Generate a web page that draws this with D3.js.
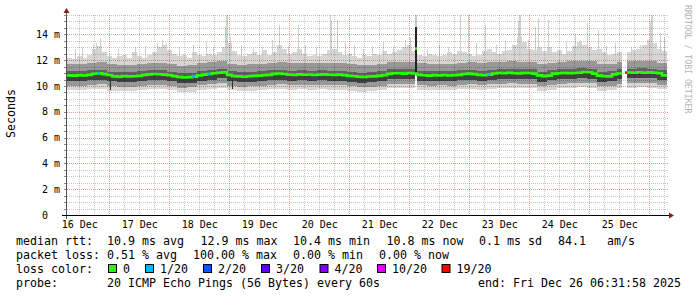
<!DOCTYPE html>
<html>
<head>
<meta charset="utf-8">
<script src="https://cdn.jsdelivr.net/npm/d3@7"></script>
<style>
  html, body { margin: 0; padding: 0; background: #fff; }
  svg { display: block; }
  text { font-family: "DejaVu Sans Mono", monospace; fill: #000; }
</style>
</head>
<body>
<svg id="chart" width="697" height="297"></svg>
<script>
// ---- data ----
// rrd series: one value per 2 hour bin, starting at graph start
const stepHours = 2;
const median = [
  10.82, 10.80, 10.84, 10.81, 10.86, 10.95, 10.98, 10.92, 10.85, 10.74,
  10.72, 10.76, 10.73, 10.75, 10.78, 10.86, 10.90, 10.93, 10.91, 10.88,
  10.84, 10.76, 10.70, 10.66, 10.68, 10.72, 10.82, 10.88, 10.93, 10.98,
  11.02, 11.05, 10.86, 10.76, 10.74, 10.72, 10.75, 10.78, 10.80, 10.84,
  10.86, 10.94, 10.97, 10.93, 10.88, 10.86, 10.90, 10.87, 10.89, 10.85,
  10.88, 10.90, 10.87, 10.86, 10.88, 10.84, 10.78, 10.75, 10.72, 10.70,
  10.73, 10.74, 10.78, 10.84, 10.94, 10.98, 10.99, 10.96, 11.00, 10.97,
  10.86, 10.83, 10.80, 10.84, 10.82, 10.85, 10.81, 10.84, 10.86, 10.93,
  10.96, 10.92, 10.86, 10.84, 10.88, 10.97, 11.00, 10.98, 11.02, 10.99,
  10.97, 11.01, 11.00, 10.96, 10.82, 10.76, 10.80, 10.96, 10.99, 11.00,
  10.98, 11.01, 11.03, 11.08, 11.06, 10.96, 10.80, 10.75, 10.74, 10.90,
  10.97, null, 11.04, 11.02, 11.06, 11.03, 11.05, 11.02, 10.98, 10.82
];
const pingMax = [
  12.2, 12.1, 12.3, 12.2, 12.4, 12.9, 13.1, 12.6, 12.3, 12.2,
  12.3, 12.4, 12.2, 12.6, 12.3, 12.2, 12.4, 12.6, 13.0, 13.2,
  12.8, 12.5, 12.3, 12.4, 12.2, 12.6, 12.4, 12.3, 12.5, 12.4,
  12.6, 13.0, 13.3, 12.7, 12.4, 12.3, 12.5, 12.6, 12.4, 12.8,
  12.4, 12.6, 13.2, 12.9, 12.5, 12.6, 12.9, 12.5, 12.3, 12.4,
  12.3, 12.5, 12.8, 12.9, 12.6, 12.4, 12.5, 12.3, 12.2, 12.4,
  12.3, 12.5, 12.4, 12.7, 12.5, 12.6, 12.8, 13.0, 13.2, 12.7,
  12.4, 12.3, 12.5, 12.4, 12.3, 12.4, 12.6, 12.5, 12.7, 12.6,
  12.5, 12.3, 12.4, 12.7, 12.9, 12.6, 12.5, 12.7, 12.8, 13.2,
  13.8, 13.4, 12.9, 12.8, 13.0, 12.7, 13.0, 12.6, 12.8, 12.5,
  12.7, 13.1, 13.4, 13.2, 13.0, 12.8, 12.9, 12.6, 12.4, 12.5,
  12.6, null, 12.6, 12.8, 12.9, 13.2, 13.6, 13.3, 12.9, 12.7
];
// smoke quantiles, one value per 4 hour bin
const pingMin = [
  9.66, 9.68, 9.74, 9.80, 9.64, 9.60, 9.62, 9.68, 9.76, 9.75,
  9.66, 9.54, 9.56, 9.70, 9.80, 9.88, 9.66, 9.58, 9.62, 9.68,
  9.74, 9.80, 9.72, 9.74, 9.72, 9.74, 9.72, 9.70, 9.62, 9.56,
  9.60, 9.66, 9.82, 9.84, 9.82, 9.70, 9.66, 9.68, 9.68, 9.74,
  9.78, 9.70, 9.76, 9.84, 9.85, 9.84, 9.82, 9.64, 9.72, 9.84,
  9.85, 9.90, 9.86, 9.62, 9.66, 9.82, 9.88, 9.90, 9.88, 9.74
];
const pingQ1 = [
  10.01, 10.02, 10.10, 10.15, 10.00, 9.94, 9.94, 10.02, 10.11, 10.10,
  10.00, 9.88, 9.90, 10.05, 10.15, 10.23, 10.01, 9.93, 9.97, 10.02,
  10.10, 10.15, 10.07, 10.08, 10.07, 10.09, 10.07, 10.06, 9.97, 9.91,
  9.94, 10.01, 10.16, 10.18, 10.18, 10.05, 10.02, 10.04, 10.03, 10.10,
  10.14, 10.05, 10.12, 10.19, 10.20, 10.19, 10.18, 9.99, 10.08, 10.19,
  10.20, 10.25, 10.21, 9.98, 10.02, 10.17, 10.23, 10.24, 10.23, 10.10
];
const pingCoreLo = [
  10.36, 10.37, 10.45, 10.50, 10.35, 10.29, 10.29, 10.37, 10.46, 10.45,
  10.35, 10.23, 10.25, 10.40, 10.50, 10.58, 10.36, 10.28, 10.32, 10.37,
  10.45, 10.50, 10.42, 10.43, 10.42, 10.44, 10.42, 10.41, 10.32, 10.26,
  10.29, 10.36, 10.51, 10.53, 10.53, 10.40, 10.37, 10.39, 10.38, 10.45,
  10.49, 10.40, 10.47, 10.54, 10.55, 10.54, 10.53, 10.34, 10.43, 10.54,
  10.55, 10.60, 10.56, 10.33, 10.37, 10.52, 10.58, 10.59, 10.58, 10.45
];
const pingCoreHi = [
  11.13, 11.14, 11.22, 11.27, 11.12, 11.06, 11.06, 11.14, 11.23, 11.22,
  11.12, 11.00, 11.02, 11.17, 11.27, 11.35, 11.13, 11.05, 11.09, 11.14,
  11.22, 11.27, 11.19, 11.20, 11.19, 11.21, 11.19, 11.18, 11.09, 11.03,
  11.06, 11.13, 11.28, 11.30, 11.30, 11.17, 11.14, 11.16, 11.15, 11.22,
  11.26, 11.17, 11.24, 11.31, 11.32, 11.31, 11.30, 11.11, 11.20, 11.31,
  11.32, 11.37, 11.33, 11.10, 11.14, 11.29, 11.35, 11.36, 11.35, 11.22
];
const pingQ3 = [
  11.71, 11.72, 11.80, 11.85, 11.70, 11.64, 11.64, 11.72, 11.81, 11.80,
  11.70, 11.58, 11.60, 11.75, 11.85, 11.93, 11.71, 11.63, 11.67, 11.72,
  11.80, 11.85, 11.77, 11.78, 11.77, 11.79, 11.77, 11.76, 11.67, 11.61,
  11.64, 11.71, 11.86, 11.88, 11.88, 11.75, 11.72, 11.74, 11.73, 11.80,
  11.84, 11.75, 11.82, 11.89, 11.90, 11.89, 11.88, 11.69, 11.78, 11.89,
  11.90, 11.95, 11.91, 11.68, 11.72, 11.87, 11.93, 11.94, 11.93, 11.80
];
// narrow max-ping spikes (hours after start, ms)
const spikeHours = [
  3.2, 6.0, 10.4, 11.6, 13.2, 20.4, 27.2, 31.2, 36.0, 38.0,
  39.6, 44.8, 50.4, 55.6, 58.4, 63.2, 63.6, 64.0, 65.2, 69.6,
  74.4, 78.0, 82.0, 84.8, 88.4, 92.4, 95.2, 99.6, 105.2, 105.6,
  108.0, 111.2, 114.8, 118.4, 122.0, 126.4, 130.4, 135.2, 137.2, 144.0,
  148.8, 152.4, 157.2, 160.4, 163.6, 167.2, 171.6, 175.2, 180.4, 180.8,
  181.2, 184.4, 187.2, 188.4, 192.4, 196.8, 199.6, 203.2, 205.2, 208.0,
  212.4, 215.6, 219.2, 225.6, 229.2, 233.2, 233.6, 234.0, 237.2, 238.8
];
const spikeTops = [
  12.9, 13.0, 13.2, 13.3, 13.7, 12.9, 13.0, 13.1, 13.3, 13.6,
  13.3, 13.0, 13.2, 13.4, 13.0, 14.6, 15.5, 15.5, 13.8, 13.2,
  12.9, 13.0, 13.6, 14.7, 13.1, 14.7, 13.2, 13.0, 15.5, 15.0,
  15.1, 13.3, 13.2, 12.9, 13.1, 13.4, 13.0, 13.6, 13.8, 12.9,
  13.2, 13.0, 15.5, 15.5, 13.3, 14.7, 13.2, 13.5, 15.0, 15.5,
  15.5, 13.6, 14.6, 15.3, 15.1, 12.8, 13.4, 14.0, 13.6, 14.9,
  14.3, 13.1, 13.3, 13.0, 13.2, 15.0, 15.5, 15.5, 14.1, 13.8
];
// short median drops
const dipHours = [17.2, 66.0];
const dipLows = [9.7, 9.8];
// the one burst where all pings were high (21 Dec)
const burstHour = 139.0;
const burstLo = 11.0;
const burstHi = 14.6;
const burstTop = 15.5;
const burstMedian = 12.9;
// loss per bin (pings lost of 20), only the non-zero bins
const lossBins = [6, 25, 28, 84, 111];
const lossCounts = [1, 1, 1, 1, 20];

const lossLabels = ["0", "1/20", "2/20", "3/20", "4/20", "10/20", "19/20"];
const lossColors = ["#26ff00", "#00b8ff", "#0059ff", "#5e00ff", "#7e00ff", "#dd00ff", "#ff0000"];
const yTicks = [0, 2, 4, 6, 8, 10, 12, 14];
const rttStats = ["10.9 ms avg", "12.9 ms max", "10.4 ms min", "10.8 ms now", "0.1 ms sd", "84.1", "am/s"];
const lossStats = ["0.51 % avg", "100.00 % max", "0.00 % min", "0.00 % now"];
const probeText = "20 ICMP Echo Pings (56 Bytes) every 60s";
const endText = "end: Fri Dec 26 06:31:58 2025";

// ---- layout ----
const svg = d3.select("#chart");
const plot = { left: 67, right: 667, top: 15, bottom: 215 };
const t0 = new Date(Date.UTC(2025, 11, 16, 7, 5));
const t1 = new Date(Date.UTC(2025, 11, 26, 7, 5));
const hourMs = 3600 * 1000;
const at = h => new Date(t0.getTime() + h * hourMs);

const x = d3.scaleUtc().domain([t0, t1]).range([plot.left, plot.right]);
const y = d3.scaleLinear().domain([0, 15.5]).range([plot.bottom, plot.top]);

const lossColor = d3.scaleThreshold().domain([1, 2, 3, 4, 10, 19]).range(lossColors);

// ---- smoke ----
const smoke = svg.append("g").attr("shape-rendering", "crispEdges");
function band(i, lo, hi, fill) {
  smoke.append("rect")
    .attr("x", x(at(i * stepHours)))
    .attr("width", x(at((i + 1) * stepHours)) - x(at(i * stepHours)))
    .attr("y", y(hi))
    .attr("height", Math.max(0, y(lo) - y(hi)))
    .attr("fill", fill);
}
median.forEach((m, i) => {
  if (m == null) return;
  const j = Math.floor(i / 2);
  band(i, pingMin[j], pingMax[i], "#d6d6d6");
});
spikeHours.forEach((h, k) => {
  const j = Math.floor(h / (stepHours * 2));
  smoke.append("rect")
    .attr("x", Math.round(x(at(h))))
    .attr("width", 1)
    .attr("y", y(spikeTops[k]))
    .attr("height", y(pingQ3[j]) - y(spikeTops[k]))
    .attr("fill", "#cfcfcf");
});
median.forEach((m, i) => {
  if (m == null) return;
  const j = Math.floor(i / 2);
  band(i, pingQ1[j], pingQ3[j], "#989898");
  band(i, pingCoreLo[j], pingCoreHi[j], "#626262");
  band(i, pingCoreLo[j], m, "#424242");
});
dipHours.forEach((h, k) => {
  const m = median[Math.floor(h / stepHours)];
  smoke.append("rect")
    .attr("x", Math.round(x(at(h))))
    .attr("width", 1)
    .attr("y", y(m))
    .attr("height", y(dipLows[k]) - y(m))
    .attr("fill", "#333");
});
{
  const bx = Math.round(x(at(burstHour)));
  const bj = Math.floor(burstHour / (stepHours * 2));
  smoke.append("rect").attr("x", bx).attr("width", 2)
    .attr("y", y(burstLo)).attr("height", y(pingMin[bj]) - y(burstLo)).attr("fill", "#fff");
  smoke.append("rect").attr("x", bx).attr("width", 2)
    .attr("y", y(burstTop)).attr("height", y(burstHi) - y(burstTop)).attr("fill", "#c8c8c8");
  smoke.append("rect").attr("x", bx).attr("width", 2)
    .attr("y", y(burstHi)).attr("height", y(burstLo) - y(burstHi)).attr("fill", "#222");
}

// ---- grid (translucent, drawn over the smoke like rrdtool) ----
const grid = svg.append("g").attr("shape-rendering", "crispEdges").attr("stroke-dasharray", "1,1");
const minorY = d3.range(0.5, 15.51, 0.5).filter(v => v % 2 !== 0);
const majorY = d3.range(2, 15.5, 2);
const minorT = d3.utcHour.every(6).range(t0, t1).filter(d => d.getUTCHours() !== 0);
const majorT = d3.utcDay.range(t0, t1);
const minorColor = "rgba(0,0,0,0.22)";
const majorColor = "rgba(190,0,0,0.4)";
const hLine = (v, c) => grid.append("line")
  .attr("x1", plot.left).attr("x2", plot.right + 1)
  .attr("y1", Math.round(y(v)) + 0.5).attr("y2", Math.round(y(v)) + 0.5)
  .attr("stroke", c);
const vLine = (d, c) => grid.append("line")
  .attr("x1", Math.round(x(d)) + 0.5).attr("x2", Math.round(x(d)) + 0.5)
  .attr("y1", plot.top).attr("y2", plot.bottom)
  .attr("stroke", c);
minorY.forEach(v => hLine(v, minorColor));
minorT.forEach(d => vLine(d, minorColor));
majorY.forEach(v => hLine(v, majorColor));
majorT.forEach(d => vLine(d, majorColor));

// ---- median line ----
const medPts = [];
median.forEach((m, i) => {
  if (m == null) { medPts.push(null); return; }
  medPts.push([at(i * stepHours), m], [at((i + 1) * stepHours), m]);
});
const medLine = d3.line().defined(d => d != null)
  .x(d => x(d[0])).y(d => y(d[1]));
svg.append("path")
  .attr("d", medLine(medPts))
  .attr("fill", "none")
  .attr("stroke", lossColors[0])
  .attr("stroke-width", 2.6);
lossBins.forEach((i, k) => {
  const m = median[i];
  const c = lossColor(lossCounts[k]);
  if (m != null) {
    svg.append("rect")
      .attr("x", x(at(i * stepHours))).attr("width", 3)
      .attr("y", y(m) - 1.3).attr("height", 2.6)
      .attr("fill", c);
  } else {
    const next = median[i + 1];
    svg.append("rect")
      .attr("x", x(at((i + 1) * stepHours)) - 2).attr("width", 2)
      .attr("y", y(next) - 1.3).attr("height", 2.6)
      .attr("fill", c);
  }
});
svg.append("rect")
  .attr("x", Math.round(x(at(burstHour))))
  .attr("y", y(burstMedian) - 1.3)
  .attr("width", 2).attr("height", 2.6)
  .attr("fill", lossColors[0]);

// ---- axes ----
const axisG = svg.append("g").attr("shape-rendering", "crispEdges");
minorY.concat(majorY).forEach(v => axisG.append("line")
  .attr("x1", plot.left - 3).attr("x2", plot.left)
  .attr("y1", Math.round(y(v)) + 0.5).attr("y2", Math.round(y(v)) + 0.5)
  .attr("stroke", "#888"));
axisG.append("line")
  .attr("x1", plot.left - 0.5).attr("x2", plot.left - 0.5)
  .attr("y1", 11).attr("y2", plot.bottom + 4)
  .attr("stroke", "#555");
axisG.append("line")
  .attr("x1", plot.left - 5).attr("x2", plot.right + 3)
  .attr("y1", plot.bottom + 0.5).attr("y2", plot.bottom + 0.5)
  .attr("stroke", "#000");
svg.append("path")
  .attr("d", `M${plot.left - 3.5},13 L${plot.left + 2.5},13 L${plot.left - 0.5},8 Z`)
  .attr("fill", "#8b1a1a");
svg.append("path")
  .attr("d", `M${plot.right + 2},${plot.bottom - 2.5} L${plot.right + 2},${plot.bottom + 3.5} L${plot.right + 7},${plot.bottom + 0.5} Z`)
  .attr("fill", "#8b1a1a");

const noonTicks = d3.utcDay.range(d3.utcDay.floor(t0), t1)
  .map(d => d3.utcHour.offset(d, 12))
  .filter(d => d < t1);
const xAxis = svg.append("g")
  .attr("transform", `translate(0,${plot.bottom})`)
  .call(d3.axisBottom(x).tickValues(noonTicks).tickFormat(d3.utcFormat("%d Dec")).tickSize(0).tickPadding(6));
xAxis.select(".domain").remove();
xAxis.selectAll("text").attr("font-family", "DejaVu Sans Mono").attr("font-size", 10).attr("fill", "#000");

const yAxis = svg.append("g")
  .attr("transform", `translate(${plot.left},0)`)
  .call(d3.axisLeft(y).tickValues(yTicks).tickFormat(v => v === 0 ? "0\u00a0\u00a0" : v + "\u00a0m").tickSize(0).tickPadding(7));
yAxis.select(".domain").remove();
yAxis.selectAll("text").attr("font-family", "DejaVu Sans Mono").attr("font-size", 10).attr("fill", "#000");

// ---- titles ----
svg.append("text")
  .attr("transform", "translate(15,113.5) rotate(-90)")
  .attr("text-anchor", "middle")
  .attr("font-size", 11.63)
  .text("Seconds");
svg.append("text")
  .attr("transform", "translate(685,5) rotate(90)")
  .attr("font-size", 8.2)
  .style("fill", "#b4b4b4")
  .text("RRDTOOL / TOBI OETIKER");

// ---- legend ----
const legend = svg.append("g").attr("font-size", 11.63).style("white-space", "pre");
const rowY = [245, 259, 273, 287];
const rttX = [107, 200.5, 293, 386.5, 479, 558, 607];
const lossX = [107, 193, 293, 379];
const boxX = [108.5, 145.5, 203.5, 261.5, 320, 377.5, 442];
const put = (tx, ty, s) => legend.append("text").attr("x", tx).attr("y", ty).text(s);

put(16, rowY[0], "median rtt:");
rttStats.forEach((s, k) => put(rttX[k], rowY[0], s));
put(16, rowY[1], "packet loss:");
lossStats.forEach((s, k) => put(lossX[k], rowY[1], s));
put(16, rowY[2], "loss color:");
lossLabels.forEach((s, k) => {
  legend.append("rect")
    .attr("x", boxX[k]).attr("y", rowY[2] - 8.5)
    .attr("width", 8).attr("height", 8)
    .attr("fill", lossColors[k]).attr("stroke", "#000");
  put(boxX[k] + 14.5, rowY[2], s);
});
put(16, rowY[3], "probe:");
put(107, rowY[3], probeText);
put(478, rowY[3], endText);
</script>
</body>
</html>
